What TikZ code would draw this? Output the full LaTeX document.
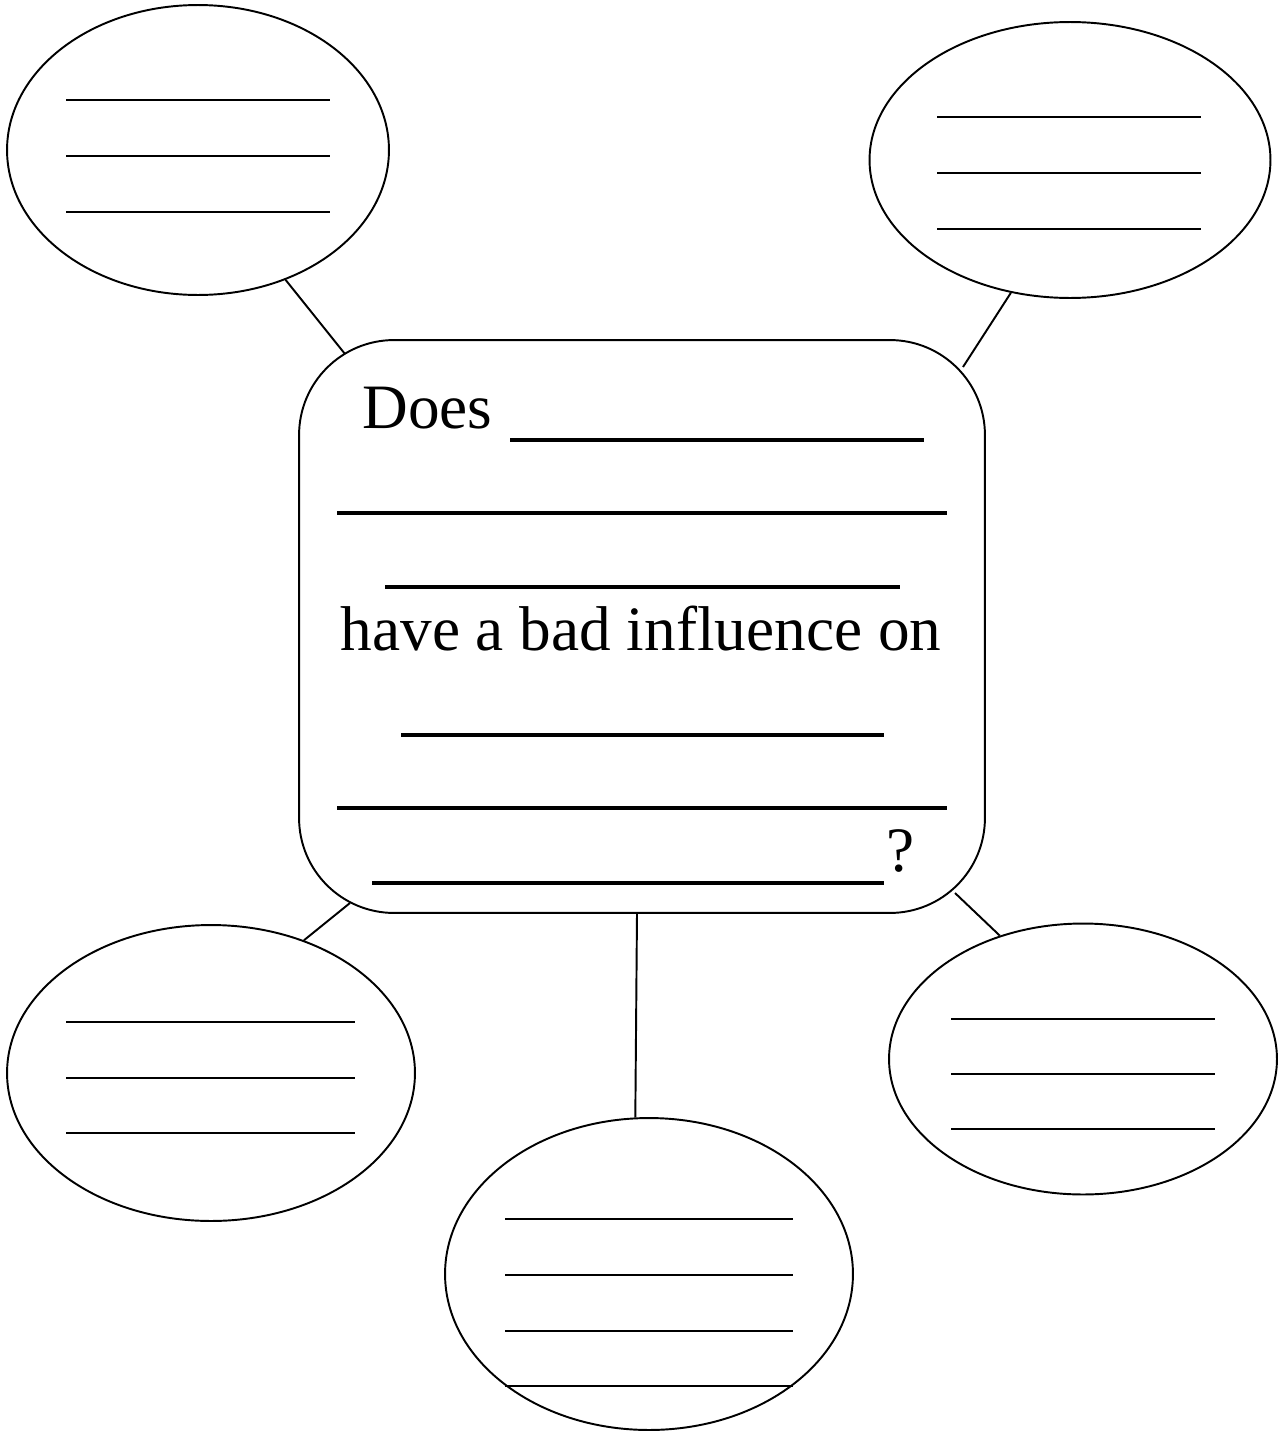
\documentclass[tikz,border=0pt]{standalone}
\usepackage{fontspec}
\setmainfont{Liberation Serif}
\usetikzlibrary{shapes.geometric}

\begin{document}
\begin{tikzpicture}
		[x=0.02cm, y=-0.02cm,
		bubble/.style={draw,ellipse,line width=1.1pt,inner sep=0pt},
		blank/.style={line width=1.1pt},
		fatblank/.style={line width=2pt},
		link/.style={line width=1.1pt},
		words/.style={inner sep=0pt,font=\fontsize{36}{43}\selectfont}]
		\useasboundingbox (0,0) rectangle (1281,1437);

		% Question box
		\node [draw,rounded corners=1.9cm,line width=1.1pt,minimum width=13.72cm,minimum height=11.46cm] (question) at (642,626.5) {};
		\node [words,anchor=base west] (does) at (362,428) {Does};
		\node [words,anchor=base] (influence) at (641,650) {have a bad influence on};
		\node [words,anchor=base west] (mark) at (886,871) {?};
		\draw[fatblank] (510,440) -- (924,440);
		\draw[fatblank] (337,513) -- (947,513);
		\draw[fatblank] (385,587) -- (900,587);
		\draw[fatblank] (401,735) -- (884,735);
		\draw[fatblank] (337,808) -- (947,808);
		\draw[fatblank] (372,883) -- (884,883);

		% Answer bubbles
		\node [bubble,minimum width=7.64cm,minimum height=5.8cm] (topleft) at (198,150) {};
		\node [bubble,minimum width=8.02cm,minimum height=5.52cm] (topright) at (1070,160) {};
		\node [bubble,minimum width=8.16cm,minimum height=5.92cm] (botleft) at (211,1073) {};
		\node [bubble,minimum width=8.16cm,minimum height=6.24cm] (bottom) at (649,1274) {};
		\node [bubble,minimum width=7.76cm,minimum height=5.42cm] (botright) at (1083,1059) {};

		% Blanks in the bubbles
		\foreach \y in {100,156,212} \draw[blank] (66,\y) -- (330,\y);
		\foreach \y in {117,173,229} \draw[blank] (937,\y) -- (1201,\y);
		\foreach \y in {1022,1078,1133} \draw[blank] (66,\y) -- (355,\y);
		\foreach \y in {1219,1275,1331,1386} \draw[blank] (505,\y) -- (793,\y);
		\foreach \y in {1019,1074,1129} \draw[blank] (951,\y) -- (1215,\y);

		% Connectors
		\coordinate (q-tl) at (345,354);
		\coordinate (q-tr) at (963,367);
		\coordinate (q-bl) at (350,903);
		\coordinate (q-b) at (637,913);
		\coordinate (q-br) at (955,893);
		\draw[link] (topleft.-56) -- (q-tl);
		\draw[link] (topright.-114) -- (q-tr);
		\draw[link] (botleft.55) -- (q-bl);
		\draw[link] (bottom.95) -- (q-b);
		\draw[link] (botright.124) -- (q-br);
	\end{tikzpicture}
\end{document}
